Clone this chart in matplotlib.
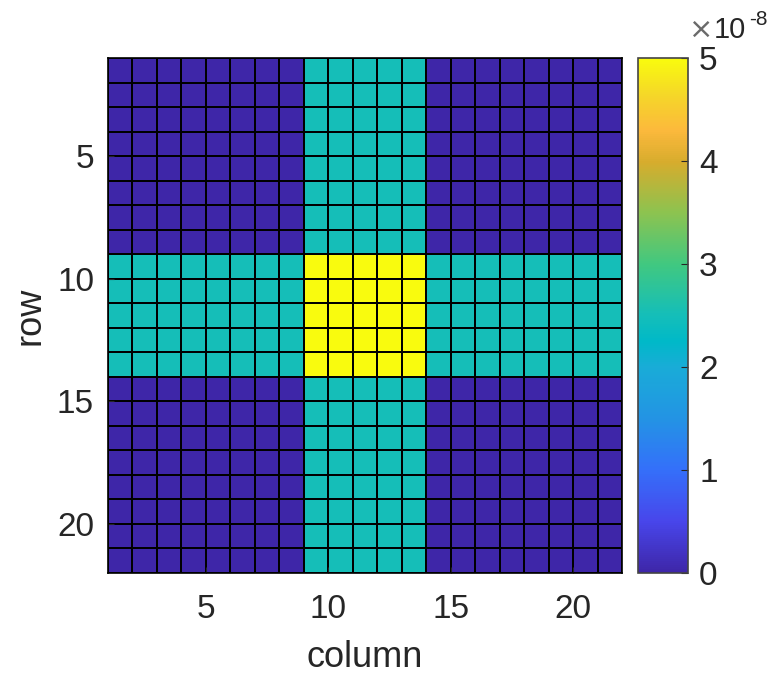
import matplotlib
matplotlib.use("Agg")
import matplotlib.pyplot as plt
import numpy as np
from matplotlib.colors import LinearSegmentedColormap
from matplotlib.ticker import FuncFormatter

plt.rcParams["font.family"] = ["Liberation Sans", "DejaVu Sans"]

# grid of 22x22 nodes -> 21x21 drawn cells (pcolor style)
n_nodes = 22
band = [9, 10, 11, 12, 13]          # rows / columns of the cross
band_value = 2.5e-8
cmax = 5e-8
xticks = [5, 10, 15, 20]
yticks = [5, 10, 15, 20]
cbar_ticks = [0, 1, 2, 3, 4, 5]

C = np.zeros((n_nodes, n_nodes))
idx = np.array(band) - 1
C[idx, :] += band_value
C[:, idx] += band_value

# approximate MATLAB parula
parula = LinearSegmentedColormap.from_list("parula", [
    (0.00, (62/255, 38/255, 168/255)),
    (0.10, (72/255, 70/255, 235/255)),
    (0.20, (52/255, 112/255, 250/255)),
    (0.30, (35/255, 148/255, 228/255)),
    (0.40, (25/255, 172/255, 215/255)),
    (0.45, (0/255, 185/255, 200/255)),
    (0.50, (20/255, 190/255, 185/255)),
    (0.60, (65/255, 200/255, 128/255)),
    (0.70, (140/255, 195/255, 80/255)),
    (0.80, (215/255, 172/255, 45/255)),
    (0.86, (252/255, 185/255, 60/255)),
    (0.93, (245/255, 215/255, 40/255)),
    (1.00, (249/255, 251/255, 14/255)),
], N=256)

txt = "#262626"

fig = plt.figure(figsize=(7.78, 6.75), dpi=100)
ax = fig.add_axes([108/778, 1 - 573/675, 514/778, 515/675])
cax = fig.add_axes([638/778, 1 - 573/675, 50/778, 515/675])

x = np.arange(1, n_nodes + 1)
mesh = ax.pcolormesh(x, x, C[:-1, :-1], cmap=parula, vmin=0, vmax=cmax,
                     edgecolors="k", linewidth=1.2)
ax.set_xlim(1, n_nodes)
ax.set_ylim(n_nodes, 1)
ax.set_xticks(xticks)
ax.set_yticks(yticks)
ax.tick_params(direction="in", length=4, labelsize=24, colors=txt)
ax.tick_params(axis="x", pad=15)
ax.tick_params(axis="y", pad=10)
ax.set_xlabel("column", fontsize=26, color=txt, labelpad=11)
ax.set_ylabel("row", fontsize=26, color=txt, labelpad=7)
for s in ax.spines.values():
    s.set_linewidth(1.2)

cb = fig.colorbar(mesh, cax=cax)
cb.set_ticks([t * 1e-8 for t in cbar_ticks])
cb.ax.yaxis.set_major_formatter(FuncFormatter(lambda v, p: f"{v / 1e-8:g}"))
cb.ax.tick_params(direction="in", length=5, labelsize=24, colors=txt,
                  pad=8)
cb.outline.set_edgecolor("#444444")
cb.outline.set_linewidth(1.2)

# colorbar exponent label
fig.text(689/778, 1 - 38/675, "\u00d7", fontsize=21, color="#6a6a6a",
         ha="left", va="baseline", family="DejaVu Sans")
fig.text(714/778, 1 - 38/675, "10", fontsize=21, color=txt,
         ha="left", va="baseline")
fig.text(749/778, 1 - 25/675, "-8", fontsize=15, color=txt,
         ha="left", va="baseline")

fig.savefig("out.png", dpi=100)
plt.close(fig)
